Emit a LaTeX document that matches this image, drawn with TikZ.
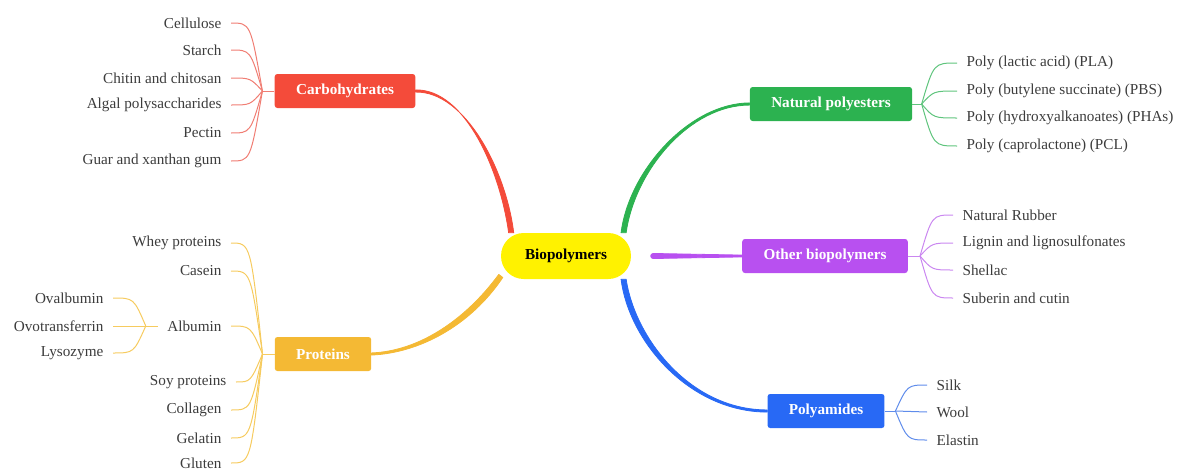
\documentclass[tikz,border=0pt]{standalone}
\usepackage{fontspec}
\setmainfont{Liberation Serif}
\usetikzlibrary{positioning}

\definecolor{carbred}{RGB}{244,75,58}
\definecolor{carbline}{RGB}{240,125,115}
\definecolor{protorange}{RGB}{244,185,52}
\definecolor{protline}{RGB}{246,203,95}
\definecolor{natgreen}{RGB}{44,178,80}
\definecolor{natline}{RGB}{95,196,125}
\definecolor{othpurple}{RGB}{184,80,240}
\definecolor{othline}{RGB}{202,135,240}
\definecolor{polblue}{RGB}{40,105,245}
\definecolor{polline}{RGB}{95,140,235}
\definecolor{leafgray}{RGB}{60,60,60}

\tikzset{
  topic/.style={fill=#1, text=white, font=\fontsize{11.4}{13}\selectfont\bfseries,
    rounded corners=2pt, inner xsep=16pt, minimum height=25.5pt},
  leaf/.style={text=leafgray, font=\fontsize{11.4}{13}\selectfont, inner xsep=7pt, inner ysep=1pt},
  branch/.style={fill=#1, draw=#1, line width=0.6pt, line join=round},
  twig/.style={draw=#1, line width=0.75pt},
}

\begin{document}
\begin{tikzpicture}[x=0.75pt, y=-0.75pt]
  \useasboundingbox (0,0) rectangle (1182,471);

  % centre and main topics
  \node[fill=yellow, font=\fontsize{11.4}{13}\selectfont\bfseries, rounded corners=17pt,
        inner xsep=18pt, minimum height=34.5pt] (bio) at (566,256) {Biopolymers};
  \node[topic=carbred] (carb) at (345,91) {Carbohydrates};
  \node[topic=protorange] (prot) at (323,354) {Proteins};
  \node[topic=natgreen] (nat) at (831,104) {Natural polyesters};
  \node[topic=othpurple] (oth) at (825,256) {Other biopolymers};
  \node[topic=polblue] (pol) at (826,411) {Polyamides};

  % tapered main branches
  \draw[branch=carbred] ([yshift=0.8pt]carb.east) .. controls (465,89) and (500,170)
    .. ([xshift=-1.9pt]bio.157) -- ([xshift=1.9pt]bio.157) .. controls (506,170) and (465,91)
    .. ([yshift=-0.8pt]carb.east) -- cycle;
  \draw[branch=natgreen] ([xshift=-1.9pt]bio.22) .. controls (629,170) and (690,103)
    .. ([yshift=0.8pt]nat.west) -- ([yshift=-0.8pt]nat.west) .. controls (690,105) and (635,170)
    .. ([xshift=1.9pt]bio.22) -- cycle;
  \draw[branch=polblue] ([xshift=-1.9pt]bio.-22) .. controls (629,342) and (690,412)
    .. ([yshift=-0.8pt]pol.west) -- ([yshift=0.8pt]pol.west) .. controls (690,410) and (635,338)
    .. ([xshift=1.9pt]bio.-22) -- cycle;
  \draw[branch=protorange] ([xshift=1.5pt,yshift=-1.15pt]bio.197) .. controls (471,325) and (420,353)
    .. ([yshift=-0.8pt]prot.east) -- ([yshift=0.8pt]prot.east) .. controls (420,351) and (466,319)
    .. ([xshift=-1.5pt,yshift=1.15pt]bio.197) -- cycle;
  \draw[branch=othpurple] ([xshift=16.5pt,yshift=-1.9pt]bio.east)
    arc[start angle=-90, end angle=-270, radius=1.9pt] -- ([yshift=0.7pt]oth.west)
    -- ([yshift=-0.7pt]oth.west) -- cycle;

  % junctions (helpers)
  \coordinate[left=9pt of carb] (cj);
  \coordinate[left=9pt of prot] (pj);
  \coordinate[right=7pt of nat] (nj);
  \coordinate[right=9pt of oth] (oj);
  \coordinate[right=8pt of pol] (lj);

  % carbohydrates
  \node[leaf, anchor=east] (cel) at (231,23) {Cellulose};
  \node[leaf, anchor=east] (sta) at (231,50) {Starch};
  \node[leaf, anchor=east] (chi) at (231,78) {Chitin and chitosan};
  \node[leaf, anchor=east] (alg) at (231,105) {Algal polysaccharides};
  \node[leaf, anchor=east] (pec) at (231,133) {Pectin};
  \node[leaf, anchor=east] (gua) at (231,161) {Guar and xanthan gum};
  \draw[twig=carbline] (carb.west) -- (cj);
  \draw[twig=carbline] (cj) .. controls ([xshift=-9pt]cj |- cel.east) .. (cel.east);
  \draw[twig=carbline] (cj) .. controls ([xshift=-9pt]cj |- sta.east) .. (sta.east);
  \draw[twig=carbline] (cj) .. controls ([xshift=-9pt]cj |- chi.east) .. (chi.east);
  \draw[twig=carbline] (cj) .. controls ([xshift=-9pt]cj |- alg.east) .. (alg.east);
  \draw[twig=carbline] (cj) .. controls ([xshift=-9pt]cj |- pec.east) .. (pec.east);
  \draw[twig=carbline] (cj) .. controls ([xshift=-9pt]cj |- gua.east) .. (gua.east);

  % proteins
  \node[leaf, anchor=east] (whe) at (231,243) {Whey proteins};
  \node[leaf, anchor=east] (cas) at (231,271) {Casein};
  \node[leaf, anchor=east] (alb) at (231,326) {Albumin};
  \node[leaf, anchor=east] (soy) at (236,382) {Soy proteins};
  \node[leaf, anchor=east] (col) at (231,410) {Collagen};
  \node[leaf, anchor=east] (gel) at (231,438) {Gelatin};
  \node[leaf, anchor=east] (glu) at (231,463) {Gluten};
  \draw[twig=protline] (prot.west) -- (pj);
  \draw[twig=protline] (pj) .. controls ([xshift=-9pt]pj |- whe.east) .. (whe.east);
  \draw[twig=protline] (pj) .. controls ([xshift=-9pt]pj |- cas.east) .. (cas.east);
  \draw[twig=protline] (pj) .. controls ([xshift=-9pt]pj |- alb.east) .. (alb.east);
  \draw[twig=protline] (pj) .. controls ([xshift=-9pt]pj |- soy.east) .. (soy.east);
  \draw[twig=protline] (pj) .. controls ([xshift=-9pt]pj |- col.east) .. (col.east);
  \draw[twig=protline] (pj) .. controls ([xshift=-9pt]pj |- gel.east) .. (gel.east);
  \draw[twig=protline] (pj) .. controls ([xshift=-9pt]pj |- glu.east) .. (glu.east);

  \node[leaf, anchor=east] (ova) at (113,298) {Ovalbumin};
  \node[leaf, anchor=east] (ovt) at (113,326) {Ovotransferrin};
  \node[leaf, anchor=east] (lys) at (113,353) {Lysozyme};
  \coordinate[left=9pt of alb] (aj);
  \draw[twig=protline] (alb.west) -- (aj);
  \draw[twig=protline] (aj) .. controls ([xshift=-9pt]aj |- ova.east) .. (ova.east);
  \draw[twig=protline] (aj) -- (ovt.east);
  \draw[twig=protline] (aj) .. controls ([xshift=-9pt]aj |- lys.east) .. (lys.east);

  % natural polyesters
  \node[leaf, anchor=west] (pla) at (957,63) {Poly (lactic acid) (PLA)};
  \node[leaf, anchor=west] (pbs) at (957,91) {Poly (butylene succinate) (PBS)};
  \node[leaf, anchor=west] (pha) at (957,118) {Poly (hydroxyalkanoates) (PHAs)};
  \node[leaf, anchor=west] (pcl) at (957,146) {Poly (caprolactone) (PCL)};
  \draw[twig=natline] (nat.east) -- (nj);
  \draw[twig=natline] (nj) .. controls ([xshift=9pt]nj |- pla.west) .. (pla.west);
  \draw[twig=natline] (nj) .. controls ([xshift=9pt]nj |- pbs.west) .. (pbs.west);
  \draw[twig=natline] (nj) .. controls ([xshift=9pt]nj |- pha.west) .. (pha.west);
  \draw[twig=natline] (nj) .. controls ([xshift=9pt]nj |- pcl.west) .. (pcl.west);

  % other biopolymers
  \node[leaf, anchor=west] (nru) at (953,215) {Natural Rubber};
  \node[leaf, anchor=west] (lig) at (953,243) {Lignin and lignosulfonates};
  \node[leaf, anchor=west] (she) at (953,270) {Shellac};
  \node[leaf, anchor=west] (sub) at (953,298) {Suberin and cutin};
  \draw[twig=othline] (oth.east) -- (oj);
  \draw[twig=othline] (oj) .. controls ([xshift=9pt]oj |- nru.west) .. (nru.west);
  \draw[twig=othline] (oj) .. controls ([xshift=9pt]oj |- lig.west) .. (lig.west);
  \draw[twig=othline] (oj) .. controls ([xshift=9pt]oj |- she.west) .. (she.west);
  \draw[twig=othline] (oj) .. controls ([xshift=9pt]oj |- sub.west) .. (sub.west);

  % polyamides
  \node[leaf, anchor=west] (sil) at (927,385) {Silk};
  \node[leaf, anchor=west] (woo) at (927,412) {Wool};
  \node[leaf, anchor=west] (ela) at (927,440) {Elastin};
  \draw[twig=polline] (pol.east) -- (lj);
  \draw[twig=polline] (lj) .. controls ([xshift=9pt]lj |- sil.west) .. (sil.west);
  \draw[twig=polline] (lj) -- (woo.west);
  \draw[twig=polline] (lj) .. controls ([xshift=9pt]lj |- ela.west) .. (ela.west);
\end{tikzpicture}
\end{document}
